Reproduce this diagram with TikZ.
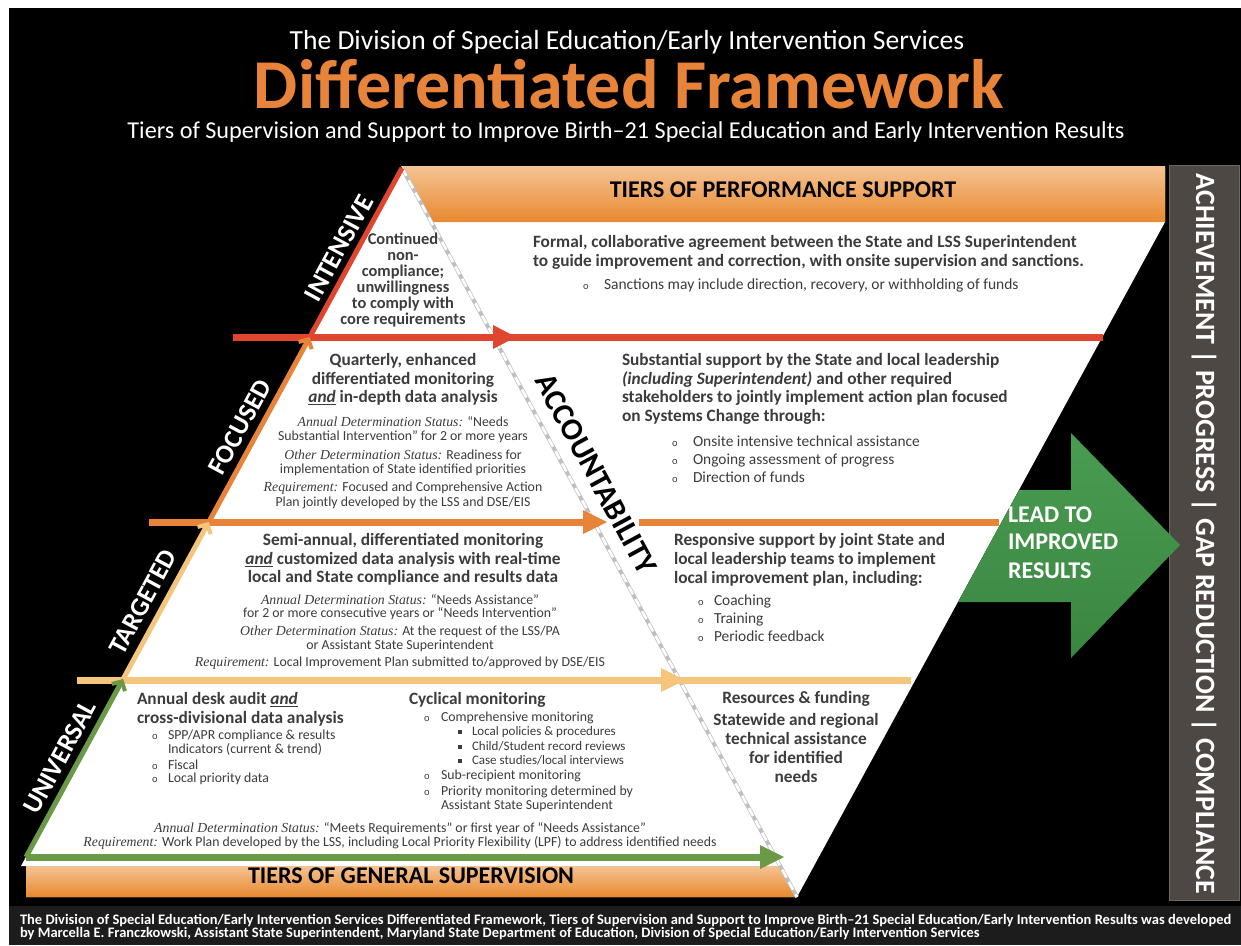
\documentclass[tikz,border=0pt]{standalone}
\usepackage{fontspec}
\setmainfont{Carlito}
\newfontfamily\camb{Liberation Serif}
\usetikzlibrary{arrows.meta}
\definecolor{cred}{HTML}{E0452E}
\definecolor{cor}{HTML}{E8843A}
\definecolor{cyel}{HTML}{F6C57C}
\definecolor{cgrn}{HTML}{6A9A45}
\definecolor{bargray}{HTML}{4E4845}
\definecolor{barline}{HTML}{6E6763}
\definecolor{agreentop}{HTML}{4A9C52}
\definecolor{agreenbot}{HTML}{3A8641}
\definecolor{txt}{HTML}{3C3C3C}
\definecolor{foot}{HTML}{1C1C1C}
\definecolor{bandtop}{HTML}{F5C393}
\definecolor{bandbot}{HTML}{E8892F}
\newcommand\dlab[1]{{\camb\itshape #1}}
\newcommand\mkC[5]{\node[#4,anchor=mid] (#1) at (#2,#3) {#5};}
\newcommand\mkL[5]{\node[#4,anchor=mid west] (#1) at (#2,#3) {#5};}
\newcommand\sqb{\rule[1.2pt]{3.8pt}{3.8pt}}
\begin{document}
\begin{tikzpicture}[x=1pt,y=-1pt,
  every node/.style={inner sep=0pt,outer sep=0pt},
  hb/.style={font=\fontsize{17.3}{19}\selectfont\bfseries,text=txt},
  ib/.style={font=\fontsize{16.4}{17}\selectfont\bfseries,text=txt},
  sm/.style={font=\fontsize{13.8}{15}\selectfont,text=txt},
  us/.style={font=\fontsize{13.8}{15}\selectfont,text=txt},
  ss/.style={font=\fontsize{13}{14}\selectfont,text=txt},
  bl/.style={font=\fontsize{15.4}{17}\selectfont,text=txt},
  bul/.style={font=\fontsize{10.5}{11}\selectfont,text=txt},
  tier/.style={font=\fontsize{26.5}{28}\selectfont\bfseries,text=white,rotate=61.6},
  band/.style={font=\fontsize{24}{26}\selectfont\bfseries,text=black},
  lead/.style={font=\fontsize{24}{26}\selectfont\bfseries,text=white},
  foottext/.style={font=\fontsize{14.5}{15}\selectfont\bfseries,text=white},
  hline/.style={line width=7pt},
  dline/.style={line width=5pt},
  barb/.style={-{Straight Barb[length=7pt,width=15pt,line width=4pt]}}
]
\useasboundingbox (0,0) rectangle (1241,945);
\fill[white] (0,0) rectangle (1241,945);
\fill[black] (9,8) rectangle (1241,945);
\fill[foot] (9,906) rectangle (1241,945);

% coordinates
\coordinate (A) at (402,168);
\coordinate (J0) at (26,857);
\coordinate (J1) at (123.1,679);
\coordinate (J2) at (208.8,522);
\coordinate (J3) at (309.8,337);
\coordinate (B) at (797,897);

% white regions
\fill[white] (A) -- (1165,168) -- (1165,222) -- (B) -- (26,897) -- (26,866) -- (21,866) -- cycle;

% top band
\shade[top color=bandtop,bottom color=bandbot] (401,166) -- (1165,166) -- (1165,222) -- (431,222) -- cycle;
% bottom band
\shade[top color=bandtop,bottom color=bandbot] (26,866) -- (780,866) -- (B) -- (26,897) -- cycle;

% dashed accountability line
\draw[black!25,line width=4pt] (A) -- (B);
\draw[white,line width=2.6pt,dash pattern=on 9pt off 5pt] (A) -- (B);

% gray bar
\fill[bargray,draw=barline,line width=1pt] (1169,165) rectangle (1239,900);

% green arrow
\shade[top color=agreentop,bottom color=agreenbot] (1019,490) -- (1071,490) -- (1071,433) -- (1180,545) -- (1071,658) -- (1071,602) -- (958,602) -- cycle;

% horizontal arrows
\draw[cred,hline] (233,337) -- (1103,337);
\fill[cred] (493,325) -- (516,337) -- (493,349) -- cycle;
\draw[cor,hline] (149,522) -- (600,522);
\draw[cor,hline] (639,522) -- (999,522);
\fill[cor] (583,510) -- (607,522) -- (583,534) -- cycle;
\draw[cyel,hline] (77,680) -- (911,680);
\fill[cyel] (661,668) -- (685,680) -- (661,692) -- cycle;
\draw[cgrn,hline] (26,857) -- (765,857);
\fill[cgrn] (760,845) -- (784,857) -- (760,869) -- cycle;

% diagonal arrows
\draw[cgrn,dline,barb] (J0) -- (J1);
\draw[cyel,dline,barb] (J1) -- (J2);
\draw[cor,dline,barb] (J2) -- (J3);
\draw[cred,dline] (J3) -- (A);

% titles
\node[anchor=base,font=\fontsize{27.6}{29}\selectfont,text=white] (t1) at (627,49) {The Division of Special Education/Early Intervention Services};
\node[anchor=base,font=\fontsize{70}{72}\selectfont\bfseries,text=cor] (t2) at (629,108) {Differentiated Framework};
\node[anchor=base,font=\fontsize{24.2}{26}\selectfont,text=white] (t3) at (626,138) {Tiers of Supervision and Support to Improve Birth–21 Special Education and Early Intervention Results};

% band labels
\node[band,anchor=mid] (b1) at (783,195) {TIERS OF PERFORMANCE SUPPORT};
\node[band,anchor=mid] (b2) at (411,881) {TIERS OF GENERAL SUPERVISION};

% tier labels
\node[tier] (lint) at (339,248) {INTENSIVE};
\node[tier] (lfoc) at (240,427) {FOCUSED};
\node[tier] (ltar) at (143,602) {TARGETED};
\node[tier] (luni) at (60,757) {UNIVERSAL};
\node[font=\fontsize{31}{33}\selectfont\bfseries,text=black,rotate=-61.55] (acc) at (596,474) {ACCOUNTABILITY};

% side bar text
\node[font=\fontsize{27.9}{29}\selectfont\bfseries,text=white,rotate=-90] (side) at (1204,534) {ACHIEVEMENT | PROGRESS | GAP REDUCTION | COMPLIANCE};

% lead to
\mkL{lt1}{1008}{520}{lead}{LEAD TO}
\mkL{lt2}{1008}{547}{lead}{IMPROVED}
\mkL{lt3}{1008}{576}{lead}{RESULTS}

% intensive
\mkC{i1}{403}{242}{ib}{Continued}
\mkC{i2}{403}{258}{ib}{non-}
\mkC{i3}{403}{274}{ib}{compliance;}
\mkC{i4}{403}{290}{ib}{unwillingness}
\mkC{i5}{403}{306}{ib}{to comply with}
\mkC{i6}{403}{322}{ib}{core requirements}
\mkL{ir1}{533}{245}{hb}{Formal, collaborative agreement between the State and LSS Superintendent}
\mkL{ir2}{533}{264}{hb}{to guide improvement and correction, with onsite supervision and sanctions.}
\mkC{irb}{586}{287}{bul}{o}
\mkL{ir3}{604}{287}{font=\fontsize{15.5}{17}\selectfont,text=txt}{Sanctions may include direction, recovery, or withholding of funds}

% focused
\mkC{f1}{403}{363}{hb}{Quarterly, enhanced}
\mkC{f2}{403}{382}{hb}{differentiated monitoring}
\mkC{f3}{403}{400}{hb}{\underline{\textit{and}} in-depth data analysis}
\mkC{f4}{403}{424}{sm}{\dlab{Annual Determination Status:} “Needs}
\mkC{f5}{403}{438}{sm}{Substantial Intervention” for 2 or more years}
\mkC{f6}{403}{457}{sm}{\dlab{Other Determination Status:} Readiness for}
\mkC{f7}{403}{471}{sm}{implementation of State identified priorities}
\mkC{f8}{403}{489}{sm}{\dlab{Requirement:} Focused and Comprehensive Action}
\mkC{f9}{403}{504}{sm}{Plan jointly developed by the LSS and DSE/EIS}
\mkL{fr1}{622}{363}{hb}{Substantial support by the State and local leadership}
\mkL{fr2}{622}{382}{hb}{\textit{(including Superintendent)} and other required}
\mkL{fr3}{622}{400}{hb}{stakeholders to jointly implement action plan focused}
\mkL{fr4}{622}{419}{hb}{on Systems Change through:}
\mkC{frb1}{675}{444}{bul}{o}
\mkC{frb2}{675}{462}{bul}{o}
\mkC{frb3}{675}{480}{bul}{o}
\mkL{fr5}{693}{444}{bl}{Onsite intensive technical assistance}
\mkL{fr6}{693}{462}{bl}{Ongoing assessment of progress}
\mkL{fr7}{693}{480}{bl}{Direction of funds}

% targeted
\mkC{g1}{403}{543}{hb}{Semi-annual, differentiated monitoring}
\mkC{g2}{403}{562}{hb}{\underline{\textit{and}} customized data analysis with real-time}
\mkC{g3}{403}{580}{hb}{local and State compliance and results data}
\mkC{g4}{400}{602}{sm}{\dlab{Annual Determination Status:} “Needs Assistance”}
\mkC{g5}{400}{615}{sm}{for 2 or more consecutive years or “Needs Intervention”}
\mkC{g6}{400}{633}{sm}{\dlab{Other Determination Status:} At the request of the LSS/PA}
\mkC{g7}{400}{647}{sm}{or Assistant State Superintendent}
\mkC{g8}{400}{664}{sm}{\dlab{Requirement:} Local Improvement Plan submitted to/approved by DSE/EIS}
\mkL{gr1}{674}{543}{hb}{Responsive support by joint State and}
\mkL{gr2}{674}{562}{hb}{local leadership teams to implement}
\mkL{gr3}{674}{581}{hb}{local improvement plan, including:}
\mkC{grb1}{701}{603}{bul}{o}
\mkC{grb2}{701}{621}{bul}{o}
\mkC{grb3}{701}{639}{bul}{o}
\mkL{gr4}{714}{603}{bl}{Coaching}
\mkL{gr5}{714}{621}{bl}{Training}
\mkL{gr6}{714}{639}{bl}{Periodic feedback}

% universal
\mkL{u1}{137}{702}{hb}{Annual desk audit \underline{\textit{and}}}
\mkL{u2}{137}{721}{hb}{cross-divisional data analysis}
\mkC{ub1}{155}{737}{bul}{o}
\mkL{u3}{168}{737}{us}{SPP/APR compliance \& results}
\mkL{u4}{168}{751}{us}{Indicators (current \& trend)}
\mkC{ub2}{155}{767}{bul}{o}
\mkL{u5}{168}{767}{us}{Fiscal}
\mkC{ub3}{155}{780}{bul}{o}
\mkL{u6}{168}{780}{us}{Local priority data}
\mkL{m1}{409}{702}{hb}{Cyclical monitoring}
\mkC{mb1}{427}{719}{bul}{o}
\mkL{m2}{441}{719}{us}{Comprehensive monitoring}
\mkC{ms1}{460}{733}{ss}{\sqb}
\mkL{m3}{472}{733}{ss}{Local policies \& procedures}
\mkC{ms2}{460}{748}{ss}{\sqb}
\mkL{m4}{472}{748}{ss}{Child/Student record reviews}
\mkC{ms3}{460}{762}{ss}{\sqb}
\mkL{m5}{472}{762}{ss}{Case studies/local interviews}
\mkC{mb2}{427}{777}{bul}{o}
\mkL{m6}{441}{777}{us}{Sub-recipient monitoring}
\mkC{mb3}{427}{793}{bul}{o}
\mkL{m7}{441}{793}{us}{Priority monitoring determined by}
\mkL{m8}{441}{807}{us}{Assistant State Superintendent}
\mkC{ud1}{400}{830}{us}{\dlab{Annual Determination Status:} “Meets Requirements” or first year of “Needs Assistance”}
\mkC{ud2}{400}{844}{us}{\dlab{Requirement:} Work Plan developed by the LSS, including Local Priority Flexibility (LPF) to address identified needs}
\mkC{ur1}{796}{701}{hb}{Resources \& funding}
\mkC{ur2}{796}{723}{hb}{Statewide and regional}
\mkC{ur3}{796}{742}{hb}{technical assistance}
\mkC{ur4}{796}{761}{hb}{for identified}
\mkC{ur5}{796}{780}{hb}{needs}

% footer
\mkL{ft1}{20}{922}{foottext}{The Division of Special Education/Early Intervention Services Differentiated Framework, Tiers of Supervision and Support to Improve Birth–21 Special Education/Early Intervention Results was developed}
\mkL{ft2}{20}{935}{foottext}{by Marcella E. Franczkowski, Assistant State Superintendent, Maryland State Department of Education, Division of Special Education/Early Intervention Services}
\end{tikzpicture}
\end{document}
